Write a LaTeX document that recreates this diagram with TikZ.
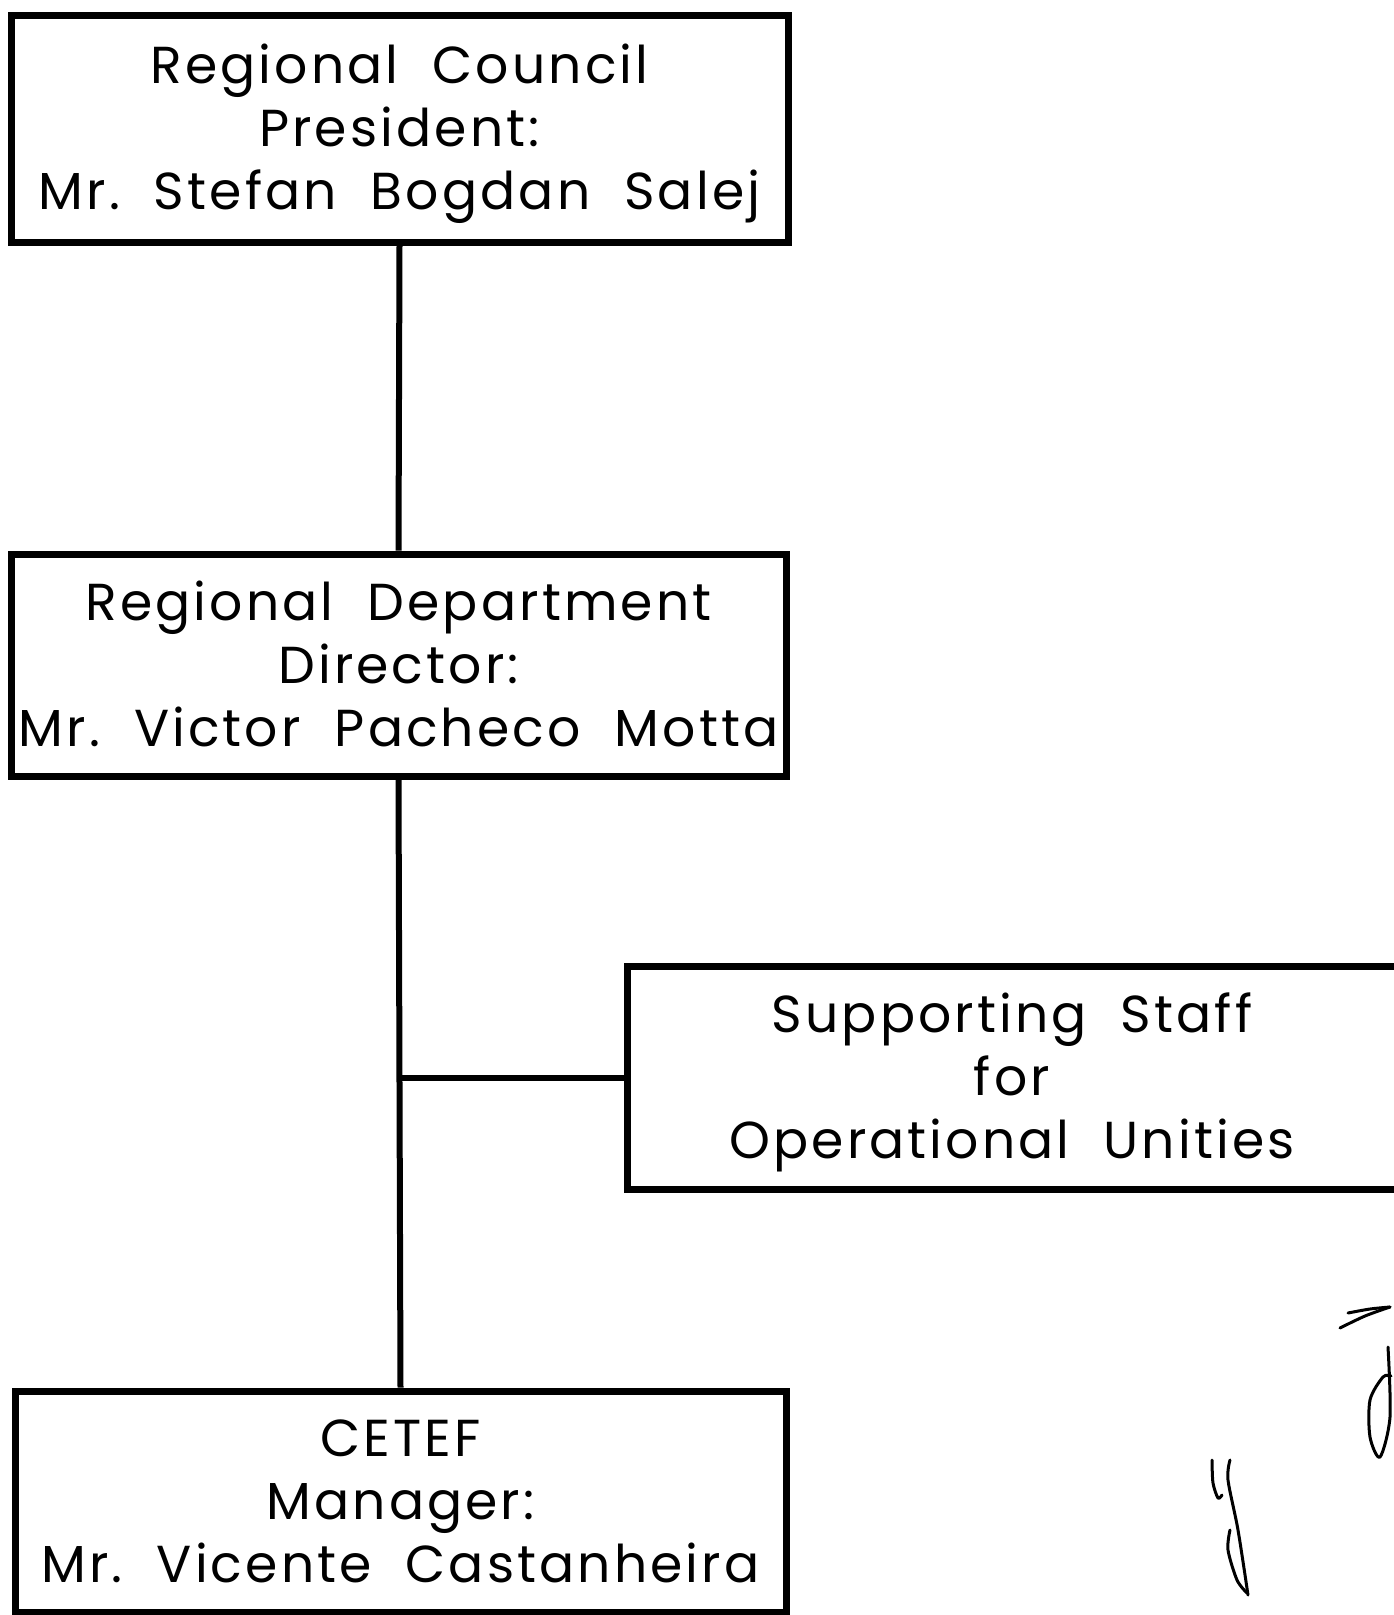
\documentclass[tikz,border=0pt]{standalone}
\usepackage{fontspec}
\setmainfont{Poppins}
\usepackage{tikz}
\usetikzlibrary{positioning,calc}
\newcommand{\unittop}{\rule{0pt}{52pt}}
\newcommand{\unitbot}{\rule[-16pt]{0pt}{16pt}}

\begin{document}
\begin{tikzpicture}[
  x=1pt, y=-1pt,
  unit/.style={draw, line width=7pt, inner sep=0pt, align=center,
    font=\fontsize{52}{63}\selectfont\addfontfeature{LetterSpace=6}},
  link/.style={line width=6pt},
  scrawl/.style={line width=3pt, line cap=round, line join=round},
]
\useasboundingbox (0,0) rectangle (1393,1615);

% Boxes
\node[unit, minimum width=777pt, minimum height=227pt] (council) at (399.5,128.5)
  {\unittop Regional\ \ Council\\President:\\Mr.\ \ Stefan\ \ Bogdan\ \ Salej\unitbot};
\node[unit, minimum width=775pt, minimum height=222pt] (dept) at (398.5,665)
  {\unittop Regional\ \ Department\\Director:\\Mr.\ \ Victor\ \ Pacheco\ \ Motta\unitbot};
\node[unit, minimum width=770pt, minimum height=223pt] (staff) at (1012,1077.5)
  {\unittop Supporting\ \ Staff\\for\\Operational\ \ Unities\unitbot};
\node[unit, minimum width=771pt, minimum height=221pt] (cetef) at (400.5,1501.5)
  {\unittop CETEF\\Manager:\\Mr.\ \ Vicente\ \ Castanheira\unitbot};

% Lines
\coordinate (branch) at (dept.south |- staff.west);
\draw[link] (council.south) -- (dept.north);
\draw[link] (dept.south) -- (cetef.north);
\draw[link] (branch) -- (staff.west);

% Initials
\draw[scrawl] plot[smooth] coordinates {(1212,1460) (1213,1483) (1218,1498) (1222,1495)};
\draw[scrawl] plot[smooth] coordinates {(1230,1460) (1228,1480) (1238,1530) (1248,1595)};
\draw[scrawl] plot[smooth] coordinates {(1230,1530) (1228,1550) (1237,1580) (1247,1593)};
\draw[scrawl] plot[smooth] coordinates {(1340,1328) (1365,1316) (1390,1307)};
\draw[scrawl] plot[smooth] coordinates {(1348,1313) (1370,1309) (1390,1307)};
\draw[scrawl] plot[smooth] coordinates {(1388,1347) (1390,1417) (1380,1457) (1370,1437) (1370,1400) (1383,1377) (1391,1376)};

\end{tikzpicture}
\end{document}
